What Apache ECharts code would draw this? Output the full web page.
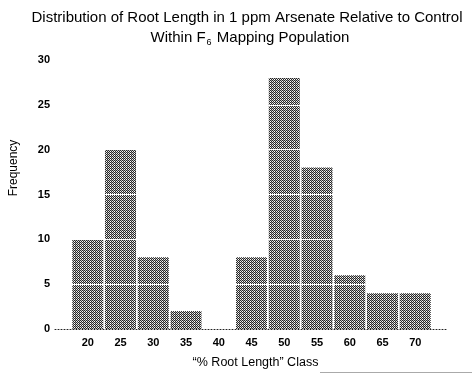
<!DOCTYPE html>
<html>
<head>
<meta charset="utf-8">
<script src="https://cdn.jsdelivr.net/npm/echarts@6/dist/echarts.min.js"></script>
<style>html,body{margin:0;padding:0;background:#fff}#c{width:472px;height:374px}</style>
</head>
<body>
<div id="c"></div>
<script>
const classes = [20, 25, 30, 35, 40, 45, 50, 55, 60, 65, 70];
const frequency = [10, 20, 8, 2, 0, 8, 28, 18, 6, 4, 4];
const yTicks = [0, 5, 10, 15, 20, 25, 30];

const pat = document.createElement('canvas');
pat.width = 4; pat.height = 4;
const pc = pat.getContext('2d');
const lights = ['#ffffff', '#c4c4c4', '#eeeeee', '#9c9c9c'];
for (let yy = 0; yy < 4; yy++) {
  for (let xx = 0; xx < 4; xx++) {
    if ((xx + yy) % 2 === 0) pc.fillStyle = '#262626';
    else pc.fillStyle = lights[(xx + 2 * yy) % 4];
    pc.fillRect(xx, yy, 1, 1);
  }
}

const chart = echarts.init(document.getElementById('c'), null, {renderer: 'canvas'});
const font = 'Liberation Sans, Arial, sans-serif';
chart.setOption({
  backgroundColor: '#fff',
  animation: false,
  grid: {left: 55, right: 24, top: 60, bottom: 40},
  graphic: [
    {type: 'text', x: 247, y: 10, style: {text: 'Distribution of Root Length in 1 ppm Arsenate Relative to Control', font: '15px ' + font, fill: '#000', align: 'center'}},
    {type: 'text', x: 250, y: 29, style: {text: '{a|Within F}{s|6}{a| Mapping Population}', align: 'center', rich: {a: {fontSize: 15, fontFamily: font, color: '#000'}, s: {fontSize: 9, fontFamily: font, color: '#000', padding: [9, 1, 0, 1]}}}},
    {type: 'text', x: 14, y: 168, rotation: Math.PI / 2, style: {text: 'Frequency', font: '12px ' + font, fill: '#000', align: 'center', verticalAlign: 'middle'}},
    {type: 'line', shape: {x1: 320, y1: 372.5, x2: 472, y2: 372.5}, style: {stroke: '#aaa', lineWidth: 1}}
  ],
  xAxis: {
    type: 'value', min: 15, max: 75, interval: 5, z: 5,
    splitLine: {show: false},
    axisTick: {show: false},
    axisLine: {show: true, onZero: true, lineStyle: {type: [1, 2], color: '#222', width: 1}},
    axisLabel: {
      margin: 8, fontSize: 11, fontWeight: 'bold', fontFamily: font, color: '#000',
      formatter: v => classes.includes(v) ? String(v) : ''
    },
    name: '\u201c% Root Length\u201d Class', nameLocation: 'middle', nameGap: 27,
    nameTextStyle: {fontSize: 12.5, fontFamily: font, color: '#000', padding: [0, 0, 0, 8]}
  },
  yAxis: {
    type: 'value', min: yTicks[0], max: yTicks[yTicks.length - 1], interval: 5, z: 3,
    axisLine: {show: false}, axisTick: {show: false},
    splitLine: {show: true, lineStyle: {color: '#fff', width: 1}},
    axisLabel: {margin: 5, fontSize: 11, fontWeight: 'bold', fontFamily: font, color: '#000'}
  },
  series: [{
    type: 'bar',
    barWidth: 31,
    data: classes.map((c, i) => [c, frequency[i]]),
    itemStyle: {color: {image: pat, repeat: 'repeat'}}
  }]
});
</script>
</body>
</html>
